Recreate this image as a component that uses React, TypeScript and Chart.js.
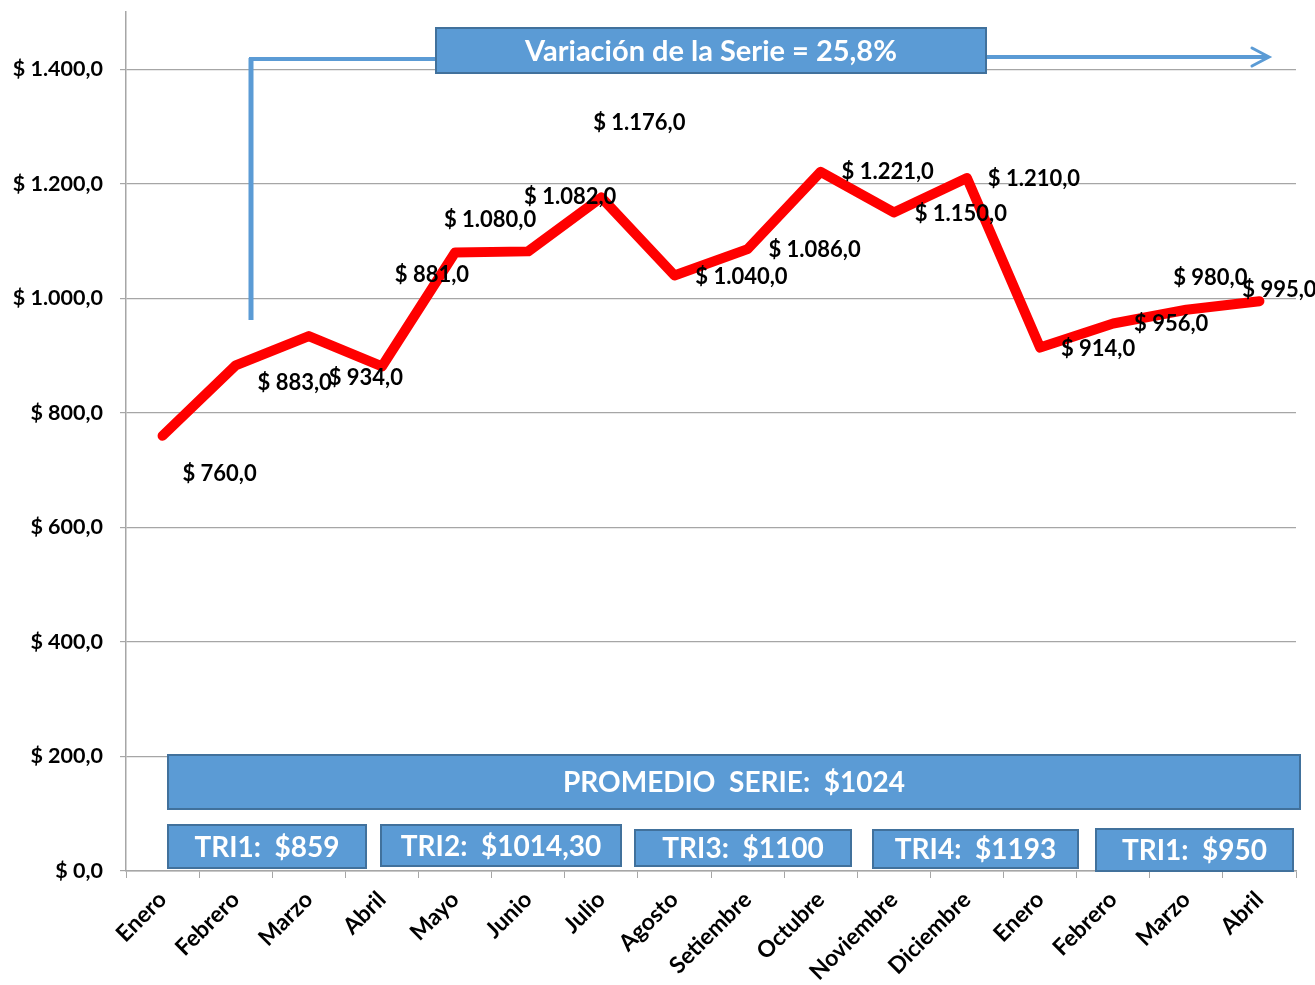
import React, { useEffect, useRef } from 'react';
import { Chart, registerables } from 'chart.js';

Chart.register(...registerables);

// ---- data ----
const categories = ['Enero', 'Febrero', 'Marzo', 'Abril', 'Mayo', 'Junio', 'Julio', 'Agosto', 'Setiembre', 'Octubre', 'Noviembre', 'Diciembre', 'Enero', 'Febrero', 'Marzo', 'Abril'];
const values = [760, 883, 934, 881, 1080, 1082, 1176, 1040, 1086, 1221, 1150, 1210, 914, 956, 980, 995];
const yTickValues = [0, 200, 400, 600, 800, 1000, 1200, 1400];
const variationText = 'Variación de la Serie = 25,8%';
const averageText = 'PROMEDIO  SERIE:  $1024';
const quarterTexts = ['TRI1:  $859', 'TRI2:  $1014,30', 'TRI3:  $1100', 'TRI4:  $1193', 'TRI1:  $950'];

// ---- layout / style (pixels) ----
const labelOffsets: [number, number][] = [
  [57, 38], [59, 18], [57, 42], [50, -92], [35, -33], [42, -54], [38, -75], [67, 1],
  [67, 1], [67, 0], [67, 1], [67, 1], [58, 1], [58, 0], [24, -32], [20, -11],
];
const variationBox = { x: 436, y: 28, w: 550, h: 45 };
const averageBox = { x: 168, y: 755, w: 1132, h: 54 };
const quarterBoxes = [
  { x: 168, y: 825, w: 198, h: 43 },
  { x: 381, y: 825, w: 240, h: 41 },
  { x: 635, y: 830, w: 216, h: 36 },
  { x: 873, y: 830, w: 205, h: 38 },
  { x: 1096, y: 829, w: 197, h: 42 },
];

const FONT = 'Lato, "Open Sans", sans-serif';
const BOX_FILL = '#5B9BD5';
const BOX_BORDER = '#41719C';
const GRID = '#a6a6a6';

function fmt(v: number): string {
  const neg = v < 0;
  const abs = Math.abs(v);
  const intPart = Math.floor(abs);
  const dec = Math.round((abs - intPart) * 10);
  const s = String(intPart).replace(/\B(?=(\d{3})+(?!\d))/g, '.');
  return (neg ? '-' : '') + '$ ' + s + ',' + dec;
}

function drawBox(ctx: CanvasRenderingContext2D, b: { x: number; y: number; w: number; h: number }, text: string, size: number) {
  ctx.save();
  ctx.fillStyle = BOX_FILL;
  ctx.fillRect(b.x, b.y, b.w, b.h);
  ctx.strokeStyle = BOX_BORDER;
  ctx.lineWidth = 2;
  ctx.strokeRect(b.x, b.y, b.w, b.h);
  ctx.fillStyle = '#ffffff';
  ctx.font = `bold ${size}px ${FONT}`;
  ctx.textAlign = 'center';
  ctx.textBaseline = 'middle';
  ctx.fillText(text, b.x + b.w / 2, b.y + b.h / 2 + 1);
  ctx.restore();
}

const annotationPlugin = {
  id: 'annotations',
  afterDatasetsDraw(chart: any) {
    const ctx: CanvasRenderingContext2D = chart.ctx;
    // arrow lines
    ctx.save();
    ctx.strokeStyle = BOX_FILL;
    ctx.lineCap = 'butt';
    ctx.lineWidth = 5;
    ctx.beginPath();
    ctx.moveTo(251, 320);
    ctx.lineTo(251, 58);
    ctx.stroke();
    ctx.lineWidth = 4;
    ctx.beginPath();
    ctx.moveTo(249, 59);
    ctx.lineTo(variationBox.x, 59);
    ctx.stroke();
    ctx.beginPath();
    ctx.moveTo(variationBox.x + variationBox.w, 57);
    ctx.lineTo(1268, 57);
    ctx.stroke();
    ctx.lineWidth = 3;
    ctx.lineCap = 'round';
    ctx.beginPath();
    ctx.moveTo(1252, 48);
    ctx.lineTo(1269, 57);
    ctx.lineTo(1252, 66);
    ctx.stroke();
    ctx.restore();

    drawBox(ctx, variationBox, variationText, 29);
    drawBox(ctx, averageBox, averageText, 28);
    quarterBoxes.forEach((b, i) => drawBox(ctx, b, quarterTexts[i], 28));

    // data labels
    const meta = chart.getDatasetMeta(0);
    ctx.save();
    ctx.font = `bold 22px ${FONT}`;
    ctx.fillStyle = '#000000';
    ctx.textAlign = 'center';
    ctx.textBaseline = 'middle';
    meta.data.forEach((pt: any, i: number) => {
      const [dx, dy] = labelOffsets[i];
      ctx.fillText(fmt(values[i]), pt.x + dx, pt.y + dy);
    });
    ctx.restore();
  },
};

export default function App() {
  const canvasRef = useRef<HTMLCanvasElement | null>(null);

  useEffect(() => {
    if (!canvasRef.current) return;
    const chart = new Chart(canvasRef.current, {
      type: 'line',
      data: {
        labels: categories,
        datasets: [
          {
            data: values,
            borderColor: '#ff0000',
            borderWidth: 10,
            pointRadius: 0,
            tension: 0,
            borderCapStyle: 'round',
            borderJoinStyle: 'round',
            fill: false,
          },
        ],
      },
      options: {
        animation: false,
        responsive: false,
        devicePixelRatio: 1,
        layout: { padding: { left: 0, right: 19, top: 12, bottom: 0 } },
        plugins: { legend: { display: false }, tooltip: { enabled: false } },
        scales: {
          x: {
            type: 'category',
            offset: true,
            grid: { offset: true, drawOnChartArea: false, drawTicks: true, tickLength: 7, color: GRID },
            border: { color: GRID, width: 1.5 },
            ticks: {
              minRotation: 45,
              maxRotation: 45,
              autoSkip: false,
              padding: 8,
              color: '#000000',
              font: { family: FONT, weight: 'bold', size: 23 },
            },
            afterFit: (s: any) => { s.height = 114; },
          },
          y: {
            min: 0,
            max: 1500,
            ticks: {
              stepSize: 200,
              padding: 17,
              color: '#000000',
              font: { family: FONT, weight: 'bold', size: 21.5 },
              callback: (v: any) => fmt(Number(v)),
            },
            afterBuildTicks: (axis: any) => {
              axis.ticks = yTickValues.map((v) => ({ value: v }));
            },
            grid: { color: GRID, tickLength: 6, lineWidth: 1.2 },
            border: { color: GRID, width: 1.5 },
            afterFit: (s: any) => {
              s.width = 126;
              s.paddingTop = 0;
              s.paddingBottom = 0;
            },
          },
        },
      },
      plugins: [annotationPlugin],
    } as any);
    return () => chart.destroy();
  }, []);

  return (
    <div style={{ position: 'absolute', left: 0, top: 0, width: 1315, height: 985, background: '#ffffff' }}>
      <canvas ref={canvasRef} width={1315} height={985} style={{ display: 'block', width: 1315, height: 985 }} />
    </div>
  );
}
